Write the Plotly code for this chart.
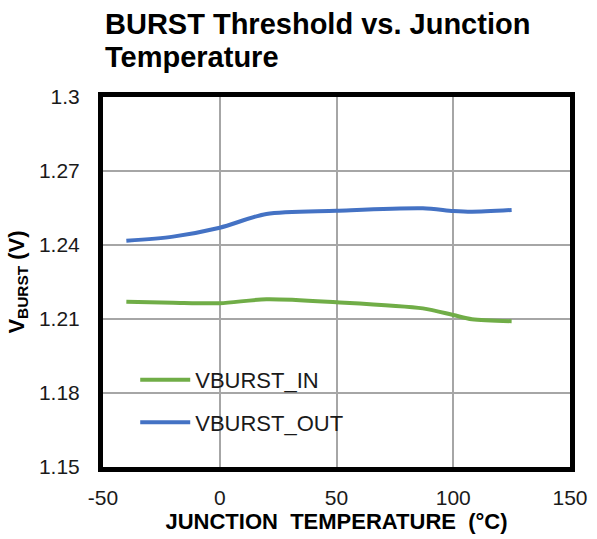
import plotly.graph_objects as go

# junction temperature (°C)
temp_c = [-40, -20, 0, 20, 50, 87, 100, 108, 125]

# threshold voltages (V)
vburst_in = [1.2170, 1.2166, 1.2164, 1.2180, 1.2168, 1.2143, 1.2116, 1.2099, 1.2091]
vburst_out = [1.2417, 1.2434, 1.2470, 1.2526, 1.2539, 1.2549, 1.2538, 1.2535, 1.2542]

x_ticks = [-50, 0, 50, 100, 150]
x_tick_text = ["-50", "0", "50", "100", "150"]
y_ticks = [1.15, 1.18, 1.21, 1.24, 1.27, 1.3]
y_tick_text = ["1.15", "1.18", "1.21", "1.24", "1.27", "1.3"]

title_lines = ["BURST Threshold vs. Junction", "Temperature"]

GREEN = "#70AD47"
BLUE = "#4472C4"
GRID = "#A6A6A6"
FONT = "Liberation Sans, Arial, sans-serif"

PLOT_TOP, PLOT_H = 97, 370


def paper_y(px):
    return 1 + (PLOT_TOP - px) / PLOT_H


fig = go.Figure()
fig.add_trace(go.Scatter(
    x=temp_c, y=vburst_in, name="VBURST_IN", mode="lines", legendgroup="in",
    line=dict(color=GREEN, width=4, shape="spline", smoothing=0.8),
))
fig.add_trace(go.Scatter(
    x=temp_c, y=vburst_out, name="VBURST_OUT", mode="lines", legendgroup="out",
    line=dict(color=BLUE, width=4, shape="spline", smoothing=0.8),
))

title_notes = [
    dict(text=f"<b>{line}</b>", xref="paper", yref="paper", x=0, y=paper_y(py),
         xanchor="left", yanchor="middle", align="left", showarrow=False,
         font=dict(family=FONT, size=29, color="black"))
    for line, py in zip(title_lines, [24, 57])
]

fig.update_layout(
    width=597,
    height=539,
    margin=dict(l=103, r=27, t=PLOT_TOP, b=72, autoexpand=False),
    paper_bgcolor="white",
    plot_bgcolor="white",
    font=dict(family=FONT, size=21, color="#1a1a1a"),
    legend=dict(
        x=0.069, y=0.292, xanchor="left", yanchor="top",
        bgcolor="rgba(0,0,0,0)",
        font=dict(size=22, color="#1a1a1a"),
        tracegroupgap=11, itemwidth=50,
    ),
    annotations=title_notes,
)

fig.update_xaxes(
    range=[-50, 150], tickvals=x_ticks, ticktext=x_tick_text,
    showgrid=True, gridcolor=GRID, gridwidth=2,
    showline=True, mirror=True, linecolor="black", linewidth=5,
    zeroline=False, ticks="", ticklabelstandoff=8, automargin=False,
    title=dict(text="<b>JUNCTION  TEMPERATURE  (°C)</b>",
               font=dict(size=22, color="black"), standoff=0),
)
fig.update_yaxes(
    range=[1.15, 1.3], tickvals=y_ticks, ticktext=y_tick_text,
    showgrid=True, gridcolor=GRID, gridwidth=2,
    showline=True, mirror=True, linecolor="black", linewidth=5,
    zeroline=False, ticks="", ticklabelstandoff=14, automargin=False,
    title=dict(text="<b>V<sub>BURST</sub> (V)</b>",
               font=dict(size=22, color="black"), standoff=10),
)

fig.write_html(
    "out.html",
    config={"displayModeBar": False},
    post_script="document.body.style.margin='0';",
)
